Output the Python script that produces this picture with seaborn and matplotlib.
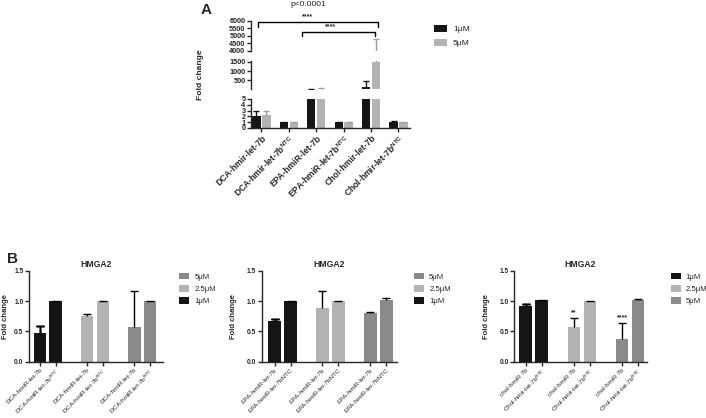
import seaborn as sns
import matplotlib.pyplot as plt
import pandas as pd

sns.set_style("ticks")
plt.rcParams['font.family'] = ['Liberation Sans', 'DejaVu Sans']
plt.rcParams['mathtext.fontset'] = 'custom'
plt.rcParams['mathtext.rm'] = 'Liberation Sans'
plt.rcParams['mathtext.bf'] = 'Liberation Sans:bold'
plt.rcParams['axes.linewidth'] = 1.0

BLACK = '#151515'
LIGHT = '#b3b3b3'
MID = '#8a8a8a'

# ---- panel A data ----
a_samples = ['DCA-hmir-let-7b', 'DCA-hmir-let-7b$^{\\mathbf{NTC}}$',
             'EPA-hmiR-let-7b', 'EPA-hmiR-let-7b$^{\\mathbf{NTC}}$',
             'Chol-hmir-let-7b', 'Chol-hmir-let-7b$^{\\mathbf{NTC}}$']
a_conc = ['1μM', '5μM']
a_1um = [2.0, 0.97, 20, 1.0, 120, 1.1]
a_1um_err = [1.0, 0.05, 5, 0.05, 345, 0.05]
a_5um = [2.2, 0.97, 35, 1.0, 1500, 1.0]
a_5um_err = [0.8, 0.05, 20, 0.05, 3300, 0.05]

# ---- panel B data ----
b_conc = ['1μM', '1μM', '2.5μM', '2.5μM', '5μM', '5μM']
b1_labels = ['DCA-hmiR-let-7b', 'DCA-hmiR-let-7b$^{NTC}$'] * 3
b1_vals = [0.47, 1.0, 0.756, 1.0, 0.572, 1.0]
b1_err = [0.12, 0.005, 0.025, 0.005, 0.60, 0.0]
b2_labels = ['EPA-hmiR-let-7b', 'EPA-hmiR-let-7bNTC'] * 3
b2_vals = [0.677, 1.0, 0.89, 1.0, 0.805, 1.025]
b2_err = [0.028, 0.005, 0.28, 0.005, 0.008, 0.03]
b3_labels = ['chol-hmiR 7b', 'Chol-hmir-let-7b$^{NTC}$'] * 3
b3_vals = [0.92, 1.01, 0.565, 1.0, 0.38, 1.025]
b3_err = [0.025, 0.003, 0.16, 0.003, 0.26, 0.003]
b3_stars = ['', '', '**', '', '****', '']

B_COLORS = {'1μM': BLACK, '2.5μM': LIGHT, '5μM': MID}

fig = plt.figure(figsize=(7.06, 4.18), dpi=100)


def upper_err(ax, x, val, err, color, capsize):
    # one-sided (upper) error bar, caps only where they fall inside the axis
    lo, hi = ax.get_ylim()
    if val + err < lo:
        return
    _, caps, _ = ax.errorbar(x, val, yerr=[[0], [err]], fmt='none', ecolor=color,
                             elinewidth=1.0, capsize=capsize, capthick=1.0)
    caps[0].set_visible(False)
    if not lo <= val + err <= hi:
        caps[1].set_visible(False)


# ---------------- panel A (broken y axis) ----------------
df_a = pd.DataFrame({
    'sample': a_samples * 2,
    'conc': [a_conc[0]] * 6 + [a_conc[1]] * 6,
    'value': a_1um + a_5um,
    'err': a_1um_err + a_5um_err,
})

ax_top = fig.add_axes([0.3555, 0.878, 0.2252, 0.0725])
ax_mid = fig.add_axes([0.3555, 0.7864, 0.2252, 0.0684])
ax_bot = fig.add_axes([0.3555, 0.6938, 0.2252, 0.0694])

for ax, lim in [(ax_top, (4000, 6000)), (ax_mid, (8, 1570)), (ax_bot, (0, 5))]:
    sns.barplot(data=df_a, x='sample', y='value', hue='conc', order=a_samples,
                hue_order=a_conc, palette=[BLACK, LIGHT], width=0.72, gap=0.15,
                errorbar=None, linewidth=0, ax=ax, legend=(ax is ax_top))
    ax.set_ylim(*lim)
    ax.set_xlim(-0.38, 5.42)
    for cont, conc in zip(ax.containers, a_conc):
        sub = df_a[df_a.conc == conc].set_index('sample')
        for bar in cont:
            xc = bar.get_x() + bar.get_width() / 2
            row = sub.loc[a_samples[int(round(xc))]]
            col = BLACK if conc == a_conc[0] else '#9c9c9c'
            upper_err(ax, xc, row.value, row.err, col, 2.5)
    ax.set_ylabel('')
    ax.set_xlabel('')
    sns.despine(ax=ax)
    ax.tick_params(axis='y', length=3, width=1.0, pad=1, labelsize=5.2)
    if ax is not ax_bot:
        ax.spines['bottom'].set_visible(False)
        ax.tick_params(axis='x', bottom=False, labelbottom=False)

ax_top.set_yticks(range(4000, 6001, 500))
ax_mid.set_yticks([500, 1000, 1500])
ax_bot.set_yticks(range(0, 6))
ax_bot.tick_params(axis='x', length=3, width=1.0, pad=1)
ax_bot.set_xticks(range(len(a_samples)))
ax_bot.set_xticklabels(a_samples, rotation=45, ha='right', rotation_mode='anchor',
                       fontsize=6.2, fontweight='bold')
for ax in (ax_top, ax_mid, ax_bot):
    for t in ax.get_yticklabels():
        t.set_fontweight('bold')

sns.move_legend(ax_top, 'upper left', bbox_to_anchor=(1.15, 0.87), frameon=False,
                title=None, fontsize=6.1, handlelength=1.55, handleheight=0.9,
                labelspacing=0.7, handletextpad=0.7, borderpad=0, borderaxespad=0)

# significance brackets
for x0, x1, y, drop, sx, sy in [(-0.12, 4.25, 5914, 350, 1.67, 6264),
                                (1.49, 4.15, 5274, 290, 2.51, 5604)]:
    ax_top.plot([x0, x0, x1, x1], [y - drop, y, y, y - drop], color='black',
                lw=1.0, clip_on=False)
    ax_top.text(sx, sy, '****', ha='center', va='center', fontsize=5, fontweight='bold')

fig.text(308 / 706, 1 - 5 / 418, 'p<0.0001', ha='center', va='center', fontsize=6)
fig.text(206 / 706, 1 - 10 / 418, 'A', ha='center', va='center', fontsize=11,
         fontweight='bold')
fig.text(200 / 706, 1 - 75 / 418, 'Fold change', rotation=90, ha='center',
         va='center', fontsize=6.1, fontweight='bold')


# ---------------- panel B ----------------
def panel_b(rect, labels, vals, errs, legend_order, xlim, leg_x, ylab_x, stars=None):
    ax = fig.add_axes(rect)
    keys = [f'{c}|{l}' for c, l in zip(b_conc, labels)]
    df = pd.DataFrame({'key': keys, 'conc': b_conc, 'value': vals, 'err': errs})
    order = keys[0:2] + ['gap1'] + keys[2:4] + ['gap2'] + keys[4:6]
    sns.barplot(data=df, x='key', y='value', hue='conc', order=order,
                hue_order=legend_order, palette=B_COLORS, dodge=False, width=0.8,
                errorbar=None, linewidth=0, ax=ax)
    ax.set_xlim(*xlim)
    ax.set_ylim(0, 1.5)
    for bar in list(ax.patches):
        pos = int(round(bar.get_x() + bar.get_width() / 2))
        if order[pos].startswith('gap'):
            continue
        i = keys.index(order[pos])
        upper_err(ax, pos, vals[i], errs[i], 'black', 3)
        if stars and stars[i]:
            ax.annotate(stars[i], (pos, vals[i] + errs[i]), xytext=(0, 1),
                        textcoords='offset points', ha='center', va='bottom',
                        fontsize=5, fontweight='bold')
    ticks = [p for p, k in enumerate(order) if not k.startswith('gap')]
    ax.set_xticks(ticks)
    ax.set_xticklabels(labels, rotation=45, ha='right', rotation_mode='anchor',
                       fontsize=4.6)
    ax.set_yticks([0, 0.5, 1.0, 1.5])
    ax.set_yticklabels(['0.0', '0.5', '1.0', '1.5'], fontsize=4.8, fontweight='bold')
    ax.tick_params(length=3, width=1.0, pad=1)
    ax.set_xlabel('')
    ax.set_ylabel('Fold change', fontsize=5.5, fontweight='bold')
    ax.yaxis.set_label_coords(ylab_x, 0.5)
    ax.set_title('HMGA2', fontsize=6.2, fontweight='bold', pad=3)
    sns.despine(ax=ax)
    sns.move_legend(ax, 'upper left', bbox_to_anchor=(leg_x, 0.975), frameon=False,
                    title=None, fontsize=5.6, handlelength=1.3, handleheight=0.9,
                    labelspacing=0.55, handletextpad=0.65, borderpad=0,
                    borderaxespad=0)
    return ax


panel_b([0.0411, 0.1347, 0.1898, 0.2177], b1_labels, b1_vals, b1_err,
        ['5μM', '2.5μM', '1μM'], (-0.7, 7.83), 1.12, -0.15)
panel_b([0.3707, 0.1347, 0.1912, 0.2177], b2_labels, b2_vals, b2_err,
        ['5μM', '2.5μM', '1μM'], (-0.8, 7.64), 1.128, -0.183)
panel_b([0.7285, 0.1347, 0.1875, 0.2177], b3_labels, b3_vals, b3_err,
        ['1μM', '2.5μM', '5μM'], (-0.72, 7.54), 1.18, -0.184, stars=b3_stars)

fig.text(12 / 706, 1 - 259 / 418, 'B', ha='center', va='center', fontsize=11,
         fontweight='bold')

fig.savefig('out.png', dpi=100)
